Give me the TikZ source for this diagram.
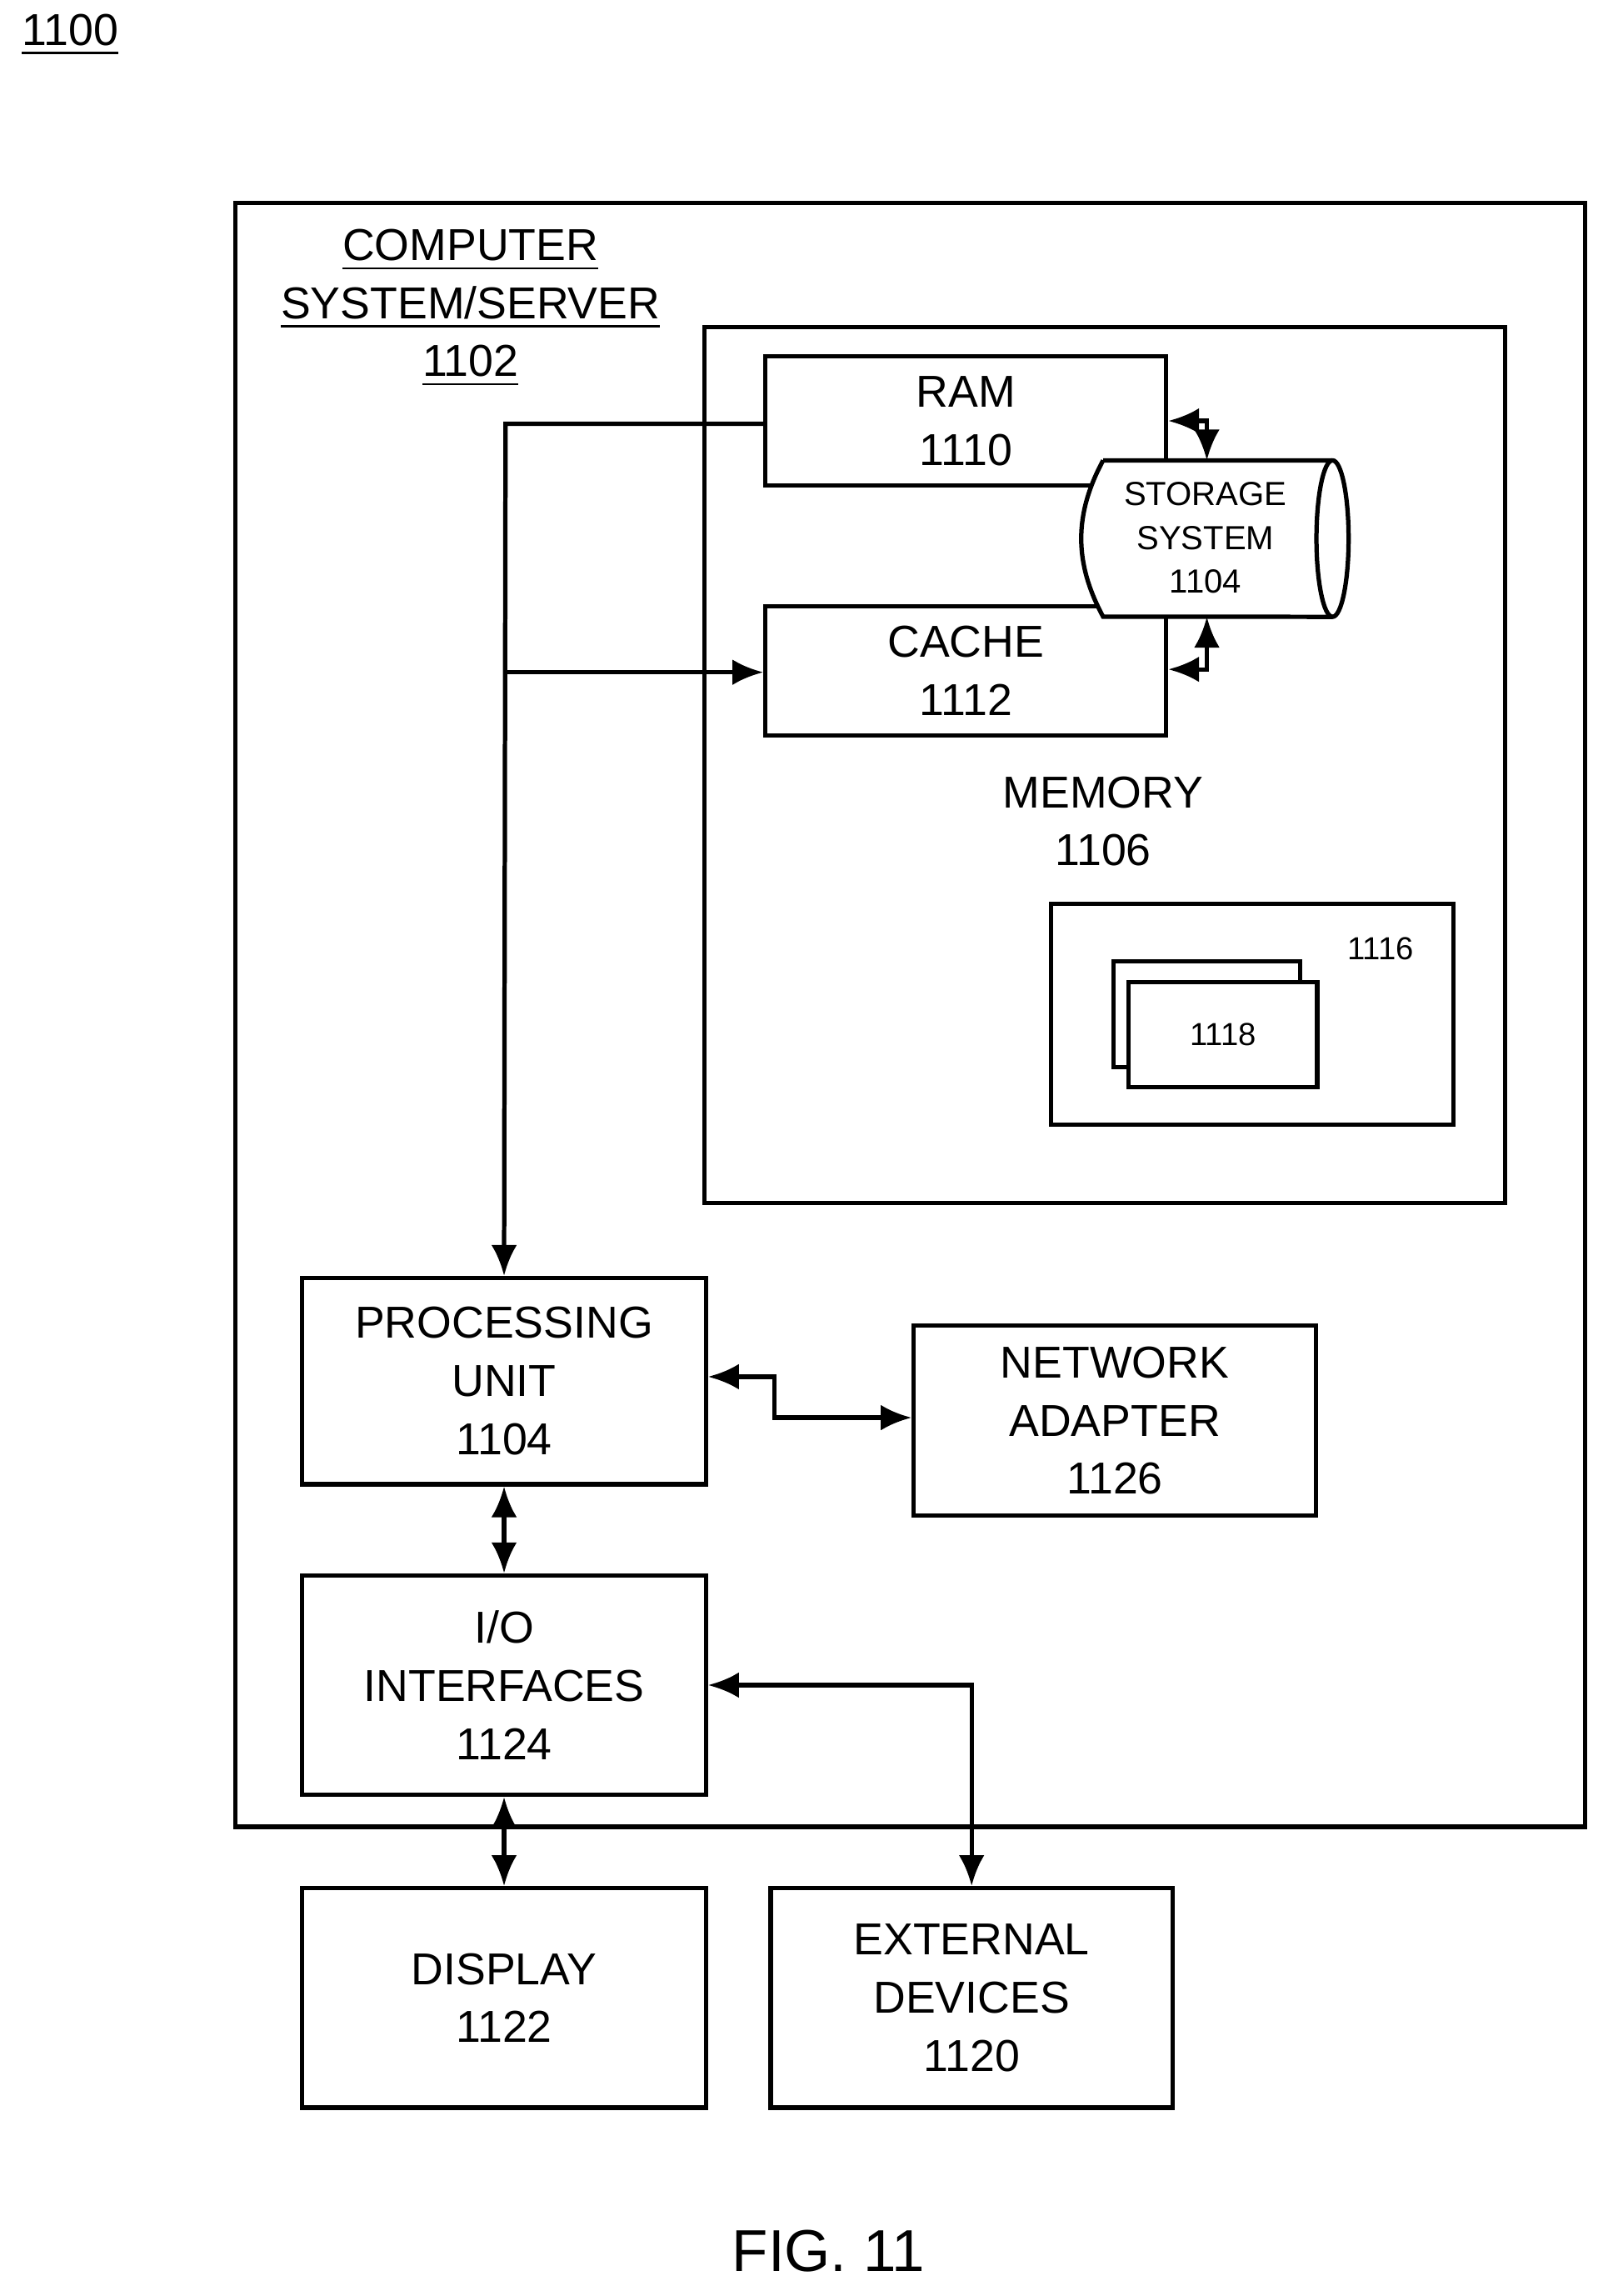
\documentclass[tikz,border=0pt]{standalone}
\usepackage{fontspec}
\setmainfont{Liberation Sans}
\usetikzlibrary{arrows.meta}
\begin{document}
\begin{tikzpicture}[x=0.01cm,y=-0.01cm,line width=0.85pt,
	box/.style={draw,fill=white,align=center,inner sep=0pt,font=\fontsize{8.7}{11.3}\selectfont},
	lbl/.style={align=center,font=\fontsize{8.7}{11.3}\selectfont},
	arr/.style={{Latex[length=6pt,width=5pt]}-{Latex[length=6pt,width=5pt]}},
	onearr/.style={-{Latex[length=6pt,width=5pt]}}]
	\useasboundingbox (0,0) rectangle (1100,1571);
	\node[lbl] (fignum) at (48,24) {\underline{1100}};
	% outer boxes
	\draw (161,139) rectangle (1085,1250);
	\node[lbl] (cs) at (322,211) {\underline{COMPUTER}\\\underline{SYSTEM/SERVER}\\\underline{1102}};
	\draw (482,224) rectangle (1030,823);
	\node[lbl] (mem) at (755,562) {MEMORY\\1106};
	% memory parts
	\node[box,minimum width=2.74cm,minimum height=0.88cm] (ram) at (661,288) {RAM\\1110};
	\node[box,minimum width=2.74cm,minimum height=0.88cm] (cache) at (661,459) {CACHE\\1112};
	\draw[fill=white] (755,315) -- (912,315) arc[start angle=90,end angle=-90,x radius=0.11cm,y radius=0.535cm]
		-- (755,422) .. controls (735,385) and (735,352) .. (755,315);
	\draw (912,315) arc[start angle=90,end angle=270,x radius=0.11cm,y radius=0.535cm];
	\coordinate (stt) at (826,315);
	\coordinate (stb) at (826,422);
	\node[font=\fontsize{6.5}{8.5}\selectfont,align=center] (st) at (825,368) {STORAGE\\SYSTEM\\1104};
	\node[box,minimum width=2.75cm,minimum height=1.51cm] (prog) at (857,694) {};
	\node[font=\fontsize{6.2}{8}\selectfont] (pl) at (945,649) {1116};
	\node[box,minimum width=1.28cm,minimum height=0.72cm] (modb) at (826,694) {};
	\node[box,minimum width=1.29cm,minimum height=0.72cm,font=\fontsize{6.2}{8}\selectfont] (mod) at (837,708) {1118};
	% lower boxes
	\node[box,minimum width=2.76cm,minimum height=1.41cm] (pu) at (345,945) {PROCESSING\\UNIT\\1104};
	\node[box,minimum width=2.75cm,minimum height=1.30cm] (net) at (763,972) {NETWORK\\ADAPTER\\1126};
	\node[box,minimum width=2.76cm,minimum height=1.50cm] (io) at (345,1153) {I/O\\INTERFACES\\1124};
	\node[box,minimum width=2.76cm,minimum height=1.50cm] (disp) at (345,1367) {DISPLAY\\1122};
	\node[box,minimum width=2.75cm,minimum height=1.50cm] (ext) at (665,1367) {EXTERNAL\\DEVICES\\1120};
	% connectors
	\draw[onearr] (ram.west |- 0,290) -- (346,290) -- (pu.north);
	\draw[onearr] (346,460) -- (cache.west |- 0,460);
	\draw[arr] (ram.east |- 0,288) -- (stt |- 0,288) -- (stt);
	\draw[arr] (stb) -- (stb |- 0,458) -- (cache.east |- 0,458);
	\draw[arr] (pu) -- (io);
	\draw[arr] (pu.east |- 0,942) -- (530,942) -- (530,970) -- (net.west |- 0,970);
	\draw[arr] (io.east |- 0,1153) -- (665,1153) -- (ext.north);
	\draw[arr] (io) -- (disp);
	\node[font=\fontsize{11.5}{14}\selectfont] (fig) at (567,1540) {FIG. 11};
\end{tikzpicture}
\end{document}
